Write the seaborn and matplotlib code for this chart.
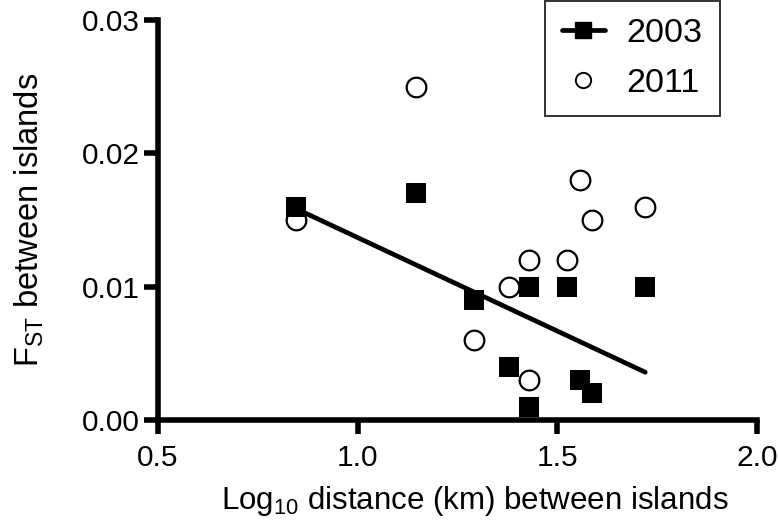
import matplotlib
matplotlib.use("Agg")
import matplotlib.pyplot as plt
from matplotlib.lines import Line2D
import seaborn as sns
import pandas as pd

# log10 distance between island pairs and pairwise FST
log_dist = [0.845, 1.146, 1.29, 1.38, 1.43, 1.43, 1.525, 1.556, 1.587, 1.72]
fst_2003 = [0.016, 0.017, 0.009, 0.004, 0.010, 0.001, 0.010, 0.003, 0.002, 0.010]
fst_2011 = [0.015, 0.025, 0.006, 0.010, 0.012, 0.003, 0.012, 0.018, 0.015, 0.016]

x_ticks = [0.5, 1.0, 1.5, 2.0]
y_ticks = [0.00, 0.01, 0.02, 0.03]

df = pd.DataFrame({"dist": log_dist, "y2003": fst_2003, "y2011": fst_2011})

sns.set_theme(style="ticks")
plt.rcParams.update({
    "font.family": ["Liberation Sans", "DejaVu Sans"],
    "mathtext.fontset": "custom",
    "mathtext.rm": "Liberation Sans",
    "mathtext.it": "Liberation Sans:italic",
    "axes.edgecolor": "black",
    "xtick.color": "black",
    "ytick.color": "black",
    "text.color": "black",
    "axes.labelcolor": "black",
})

fig = plt.figure(figsize=(7.78, 5.31), dpi=100)
ax = fig.add_axes([0.2031, 0.209, 0.770, 0.7533])

sns.regplot(data=df, x="dist", y="y2003", ax=ax, scatter=False, ci=None,
            truncate=True, line_kws={"color": "black", "lw": 3.4,
                                     "solid_capstyle": "round"})
sns.scatterplot(data=df, x="dist", y="y2011", ax=ax, marker="o", s=200,
                facecolor="white", edgecolor="black", linewidth=1.6, zorder=3)
sns.scatterplot(data=df, x="dist", y="y2003", ax=ax, marker="s", s=200,
                color="black", edgecolor="black", linewidth=0, zorder=4)

ax.set_xlim(0.5, 2.0)
ax.set_ylim(0.0, 0.03)
ax.set_xticks(x_ticks)
ax.set_yticks(y_ticks)
ax.set_xticklabels(["0.5", "1.0", "1.5", "2.0"])
ax.set_yticklabels(["0.00", "0.01", "0.02", "0.03"])
ax.tick_params(labelsize=21.5, length=10, width=4, color="black")
ax.tick_params(axis="x", pad=7)
ax.tick_params(axis="y", pad=3)
sns.despine(ax=ax)
for side in ["left", "bottom"]:
    ax.spines[side].set_linewidth(4)
    ax.spines[side].set_capstyle("projecting")

ax.set_xlabel("Log$_{10}$ distance (km) between islands", fontsize=22.5)
ax.xaxis.set_label_coords(0.529, -0.16)
ax.set_ylabel("F$_{\\mathrm{ST}}$ between islands", fontsize=23.5, labelpad=26)

handles = [
    Line2D([], [], color="black", lw=3.4, marker="s", markersize=12,
           solid_capstyle="round"),
    Line2D([], [], color="black", lw=0, marker="o", markersize=11,
           markerfacecolor="white", markeredgewidth=1.4),
]
leg = ax.legend(handles, ["2003", "2011"], loc="upper left",
                bbox_to_anchor=(545 / 778, 1 - 1 / 531), bbox_transform=fig.transFigure,
                fontsize=24.5, frameon=True, fancybox=False, borderpad=0.5,
                handlelength=1.25, handletextpad=0.65, labelspacing=0.55,
                borderaxespad=0)
leg.get_frame().set_edgecolor("black")
leg.get_frame().set_linewidth(1.4)

fig.savefig("out.png", dpi=100)
